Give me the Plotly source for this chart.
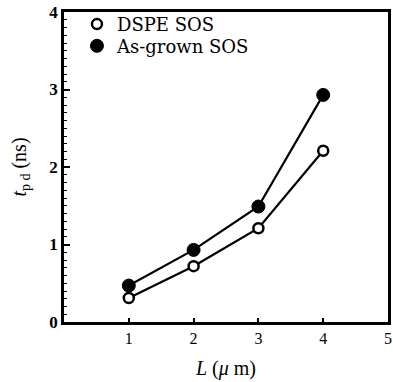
import plotly.graph_objects as go

L_um = [1, 2, 3, 4]
dspe_sos = [0.31, 0.72, 1.21, 2.21]
as_grown_sos = [0.47, 0.93, 1.49, 2.93]
series_names = ["DSPE SOS", "As-grown SOS"]
x_ticks = [1, 2, 3, 4, 5]
y_ticks = [0, 1, 2, 3, 4]

FONT = "Liberation Serif, Times New Roman, serif"
LEG_FONT = "DejaVu Serif, serif"

open_marker = dict(symbol="circle", size=10, color="white", line=dict(color="black", width=2.5))
filled_marker = dict(symbol="circle", size=13, color="black", line=dict(color="black", width=1))

fig = go.Figure()
fig.add_trace(go.Scatter(
    x=L_um, y=dspe_sos, mode="lines+markers", name=series_names[0],
    line=dict(color="black", width=2.2), marker=open_marker, showlegend=False))
fig.add_trace(go.Scatter(
    x=L_um, y=as_grown_sos, mode="lines+markers", name=series_names[1],
    line=dict(color="black", width=2.2), marker=filled_marker, showlegend=False))
# legend entries (marker only), one legend per row for tight spacing
fig.add_trace(go.Scatter(x=[None], y=[None], mode="markers", name=series_names[0],
                         marker=open_marker, legend="legend"))
fig.add_trace(go.Scatter(x=[None], y=[None], mode="markers", name=series_names[1],
                         marker=filled_marker, legend="legend2"))

leg_common = dict(xanchor="left", yanchor="middle", bgcolor="rgba(0,0,0,0)",
                  font=dict(size=18, family=LEG_FONT, color="black"),
                  itemwidth=30, borderwidth=0)
fig.update_layout(
    width=393, height=382,
    margin=dict(l=64, r=2, t=12, b=60),
    paper_bgcolor="white", plot_bgcolor="white",
    font=dict(family=FONT, color="black", size=16),
    legend=dict(x=0.04, y=0.96, **leg_common),
    legend2=dict(x=0.04, y=0.89, **leg_common),
)
fig.update_xaxes(
    range=[0, 5], tickvals=x_ticks, ticktext=[str(v) for v in x_ticks],
    showgrid=False, zeroline=False, showline=True, linecolor="black", linewidth=2.5,
    mirror=True, ticks="inside", ticklen=4, tickwidth=1.5, tickcolor="black",
    tickfont=dict(size=16, family=FONT),
    title=dict(text="<i>L</i> (<i>μ</i> m)", font=dict(size=20, family=FONT), standoff=16),
)
fig.update_yaxes(
    range=[0, 4], tickvals=y_ticks, ticktext=[str(v) for v in y_ticks],
    showgrid=False, zeroline=False, showline=True, linecolor="black", linewidth=2.5,
    mirror=True, ticks="inside", ticklen=6, tickwidth=1.5, tickcolor="black",
    minor=dict(dtick=0.1, ticks="inside", ticklen=3, tickwidth=1, tickcolor="black"),
    tickfont=dict(size=17, family=FONT, weight="bold"),
    title=dict(text="<i>t</i><sub>p d</sub> (ns)", font=dict(size=20, family=FONT), standoff=18),
)

fig.write_html("out.html")
